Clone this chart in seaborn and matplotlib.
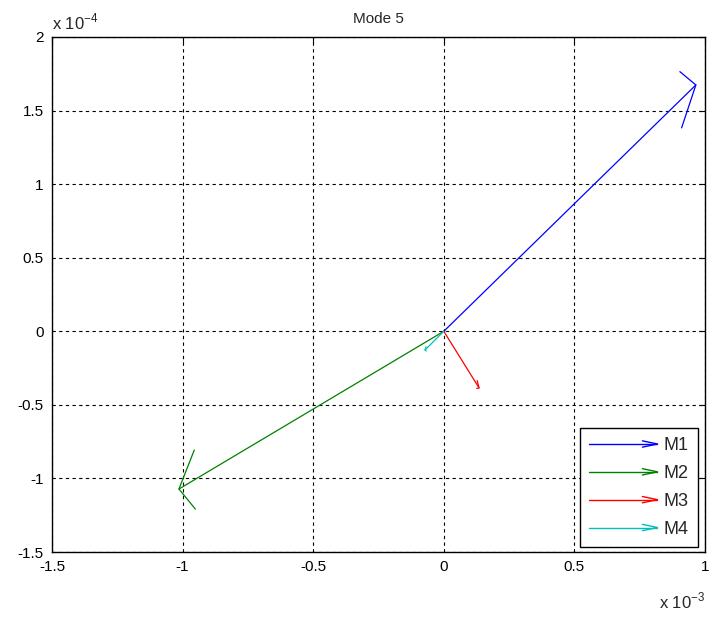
import numpy as np
import pandas as pd
import matplotlib
matplotlib.use("Agg")
import matplotlib.pyplot as plt
from matplotlib.lines import Line2D
from matplotlib.legend_handler import HandlerBase
import seaborn as sns

# Mode-shape vectors (x in units of 1e-3, y in units of 1e-4 on the axes)
modes = ["M1", "M2", "M3", "M4"]
u_vals = [0.965e-3, -1.014e-3, 0.135e-3, -0.072e-3]
v_vals = [1.674e-4, -1.072e-4, -0.385e-4, -0.127e-4]
colors = ["#0000ff", "#008000", "#ff0000", "#00bfbf"]

x_ticks = [-1.5e-3, -1.0e-3, -0.5e-3, 0.0, 0.5e-3, 1.0e-3]
x_labels = ["-1.5", "-1", "-0.5", "0", "0.5", "1"]
y_ticks = [-1.5e-4, -1.0e-4, -0.5e-4, 0.0, 0.5e-4, 1.0e-4, 1.5e-4, 2.0e-4]
y_labels = ["-1.5", "-1", "-0.5", "0", "0.5", "1", "1.5", "2"]

sns.set_style("white")
plt.rcParams["font.family"] = ["Liberation Sans", "DejaVu Sans"]
plt.rcParams["mathtext.fontset"] = "custom"
plt.rcParams["mathtext.rm"] = "Liberation Sans"

fig = plt.figure(figsize=(7.09, 6.17), dpi=100)
ax = fig.add_axes([52 / 709, 1 - 552 / 617, 653 / 709, 515 / 617])

# Shafts: straight segments from the origin to each vector tip
rows = []
for m, u, v in zip(modes, u_vals, v_vals):
    rows.append({"mode": m, "x": 0.0, "y": 0.0})
    rows.append({"mode": m, "x": u, "y": v})
df = pd.DataFrame(rows)
sns.lineplot(data=df, x="x", y="y", hue="mode", palette=colors, units="mode",
             estimator=None, sort=False, lw=0.9, ax=ax, legend=False)

# Arrow heads (quiver-style, in data units)
alpha, beta = 0.06, 0.33
for u, v, c in zip(u_vals, v_vals, colors):
    hx = [u - alpha * (u + beta * v), u, u - alpha * (u - beta * v)]
    hy = [v - alpha * (v - beta * u), v, v - alpha * (v + beta * u)]
    ax.plot(hx, hy, color=c, lw=0.9)

ax.set_xlim(-1.5e-3, 1.0e-3)
ax.set_ylim(-1.5e-4, 2.0e-4)
ax.set_xticks(x_ticks)
ax.set_xticklabels(x_labels)
ax.set_yticks(y_ticks)
ax.set_yticklabels(y_labels)
ax.set_xlabel("")
ax.set_ylabel("")
ax.tick_params(direction="in", length=4, width=0.8, top=True, right=True,
               labelsize=11, colors="black", pad=6)
for s in ax.spines.values():
    s.set_visible(True)
    s.set_color("black")
    s.set_linewidth(1.0)
ax.grid(True, color="black", linestyle=(0, (3, 3)), linewidth=0.8)
ax.set_axisbelow(True)

ax.set_title("Mode 5", fontsize=11, pad=10)
ax.text(0.0, 1.008, r"x 10$^{\mathregular{-4}}$", transform=ax.transAxes,
        ha="left", va="bottom", fontsize=12)
ax.text(1.0, -0.075, r"x 10$^{\mathregular{-3}}$", transform=ax.transAxes,
        ha="right", va="top", fontsize=12)


class ArrowHandler(HandlerBase):
    def create_artists(self, legend, orig_handle, xdescent, ydescent,
                       width, height, fontsize, trans):
        c = orig_handle.get_color()
        y = height / 2 - ydescent
        x0, x1 = -xdescent, -xdescent + width
        shaft = Line2D([x0, x1], [y, y], color=c, lw=1.0, transform=trans)
        hx = x1 - 0.22 * width
        head = Line2D([hx, x1, hx], [y + 0.25 * height, y, y - 0.25 * height],
                      color=c, lw=1.0, transform=trans)
        return [shaft, head]


handles = [Line2D([], [], color=c) for c in colors]
leg = ax.legend(handles, modes, loc="lower right",
                bbox_to_anchor=(0.989, 0.01), handler_map={Line2D: ArrowHandler()},
                handlelength=3.8, handletextpad=0.35, labelspacing=0.6,
                fontsize=13, frameon=True, fancybox=False, borderpad=0.5,
                borderaxespad=0.0)
leg.get_frame().set_edgecolor("black")
leg.get_frame().set_linewidth(1.0)
leg.get_frame().set_alpha(1.0)

fig.savefig("out.png", dpi=100)
